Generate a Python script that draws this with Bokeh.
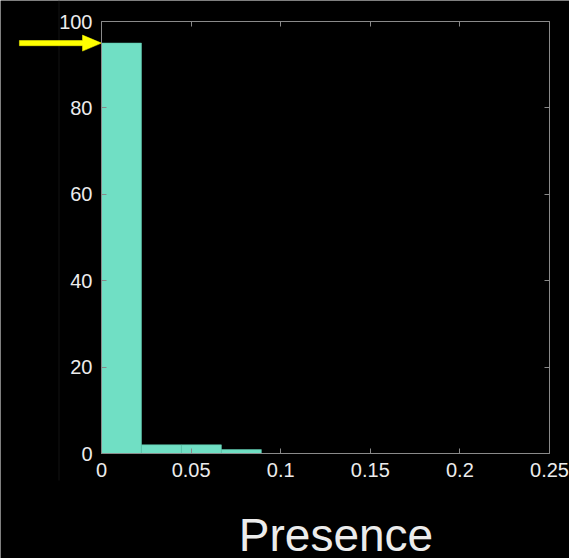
from bokeh.plotting import figure
from bokeh.models import LinearAxis, Range1d, FixedTicker, Label
from bokeh.embed import file_html
from bokeh.resources import INLINE

# histogram data
bin_left = [0.0, 0.0223, 0.0446, 0.0669]
bin_right = [0.0223, 0.0446, 0.0669, 0.0892]
counts = [95.0, 2.0, 2.0, 0.9]

x_ticks = [0, 0.05, 0.1, 0.15, 0.2, 0.25]
x_tick_labels = ["0", "0.05", "0.1", "0.15", "0.2", "0.25"]
y_ticks = [0, 20, 40, 60, 80, 100]

arrow_x = [-0.0458, 0.0]
arrow_y = 95.0
x_label = "Presence"

FONT = "Liberation Sans"
GRAY = "#8a8a8a"
TXT = "#ececec"

# layout in pixels: the frame covers the whole canvas, the axes box sits inside it
W, H = 569, 558
BOX_LEFT, BOX_TOP, BOX_W, BOX_H = 101, 21, 448, 432
XMIN, XMAX, YMIN, YMAX = 0.0, 0.25, 0.0, 100.0
px_x = (XMAX - XMIN) / BOX_W
px_y = (YMAX - YMIN) / BOX_H
x_lo = XMIN - BOX_LEFT * px_x
x_hi = XMIN + (W - BOX_LEFT) * px_x
y_hi = YMIN + (BOX_TOP + BOX_H) * px_y
y_lo = YMIN - (H - BOX_TOP - BOX_H) * px_y

p = figure(frame_width=W, frame_height=H, min_border=0,
           x_range=Range1d(x_lo, x_hi), y_range=Range1d(y_lo, y_hi),
           output_backend="svg", toolbar_location=None,
           background_fill_color="black", border_fill_color="black",
           outline_line_color=None)

p.xgrid.visible = False
p.ygrid.visible = False

# faint vertical line seen left of the axis in the reference
p.segment(x0=[x_lo + 58.5 * px_x], y0=[y_hi], x1=[x_lo + 58.5 * px_x], y1=[YMIN - 27 * px_y],
          line_color="#131313", line_width=1)

p.quad(left=bin_left, right=bin_right, top=counts, bottom=0,
       fill_color="#70dfc4", line_color="#5ec7ad", line_width=0.6)

def style(ax, labels=True):
    ax.axis_line_color = GRAY
    ax.major_tick_line_color = GRAY
    ax.major_tick_in = 5
    ax.major_tick_out = 0
    ax.minor_tick_line_color = None
    ax.major_label_text_font = FONT
    ax.major_label_text_font_size = "20px"
    ax.major_label_text_color = TXT if labels else None

xa = p.xaxis[0]
xa.ticker = FixedTicker(ticks=x_ticks)
xa.major_label_overrides = {t: l for t, l in zip(x_ticks, x_tick_labels)}
xa.bounds = (XMIN, XMAX)
xa.fixed_location = YMIN
style(xa)
xa.major_label_standoff = 9

ya = p.yaxis[0]
ya.ticker = FixedTicker(ticks=y_ticks)
ya.bounds = (YMIN, YMAX)
ya.fixed_location = XMIN
style(ya)
ya.major_label_standoff = 9

top = LinearAxis(ticker=FixedTicker(ticks=x_ticks), bounds=(XMIN, XMAX), fixed_location=YMAX)
style(top, labels=False)
p.add_layout(top, "above")
right = LinearAxis(ticker=FixedTicker(ticks=y_ticks), bounds=(YMIN, YMAX), fixed_location=XMAX)
style(right, labels=False)
p.add_layout(right, "right")

# yellow arrow (shaft + head), sizes in pixels
shaft_h = 2.6 * px_y
head_h = 8.0 * px_y
head_l = 19.0 * px_x
x0, x1 = arrow_x
xb = x1 - head_l
p.patch(x=[x0, xb, xb, x1, xb, xb, x0],
        y=[arrow_y + shaft_h, arrow_y + shaft_h, arrow_y + head_h, arrow_y,
           arrow_y - head_h, arrow_y - shaft_h, arrow_y - shaft_h],
        fill_color="#ffff00", line_color="#ffff00", line_width=0.5)

p.add_layout(Label(x=(XMIN + XMAX) / 2 + 10.5 * px_x, y=YMIN - 81 * px_y,
                   text=x_label, text_align="center", text_baseline="alphabetic",
                   text_font=FONT, text_font_size="46px", text_color=TXT))

open("out.html", "w").write(file_html(p, INLINE))
